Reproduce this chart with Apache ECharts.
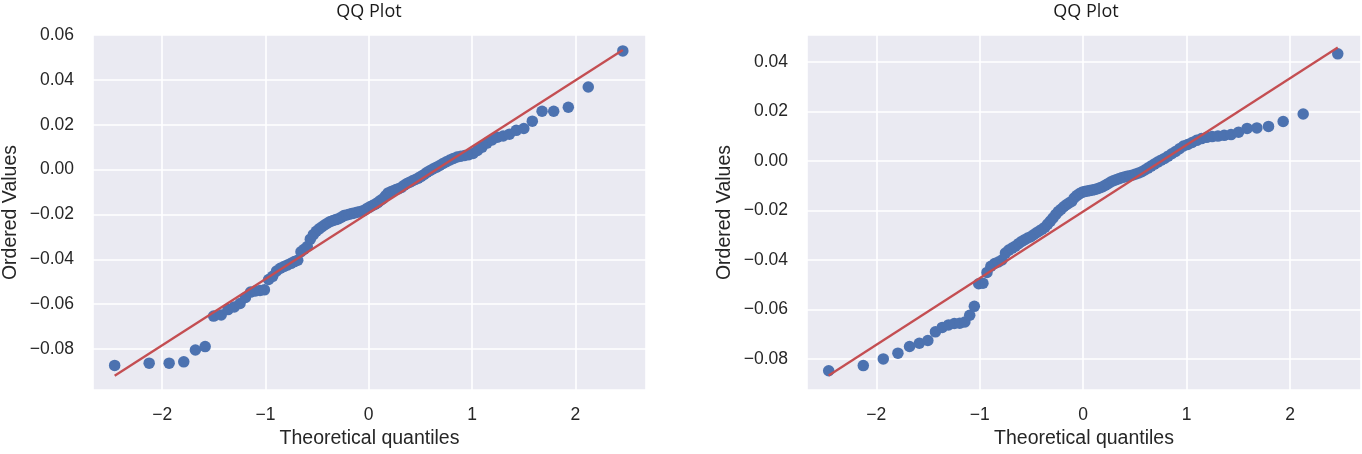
<!DOCTYPE html>
<html>
<head>
<meta charset="utf-8">
<title>QQ Plot</title>
<script src="https://cdn.jsdelivr.net/npm/echarts@6/dist/echarts.min.js"></script>
<style>
  html, body { margin: 0; padding: 0; background: #fff; }
  #chart { width: 1362px; height: 454px; }
</style>
</head>
<body>
<div id="chart"></div>
<script>
// theoretical quantiles (n = 100, same for both plots)
var quantiles = [
  -2.4604, -2.1260, -1.9326, -1.7911, -1.6786, -1.5841, -1.5019, -1.4288, -1.3627, -1.3020,
  -1.2460, -1.1934, -1.1439, -1.0971, -1.0526, -1.0101, -0.9693, -0.9301, -0.8923, -0.8557,
  -0.8202, -0.7857, -0.7521, -0.7194, -0.6874, -0.6560, -0.6253, -0.5952, -0.5656, -0.5365,
  -0.5079, -0.4797, -0.4519, -0.4244, -0.3972, -0.3703, -0.3437, -0.3173, -0.2912, -0.2652,
  -0.2395, -0.2139, -0.1884, -0.1631, -0.1378, -0.1126, -0.0875, -0.0625, -0.0375, -0.0125,
  0.0125, 0.0375, 0.0625, 0.0875, 0.1126, 0.1378, 0.1631, 0.1884, 0.2139, 0.2395,
  0.2652, 0.2912, 0.3173, 0.3437, 0.3703, 0.3972, 0.4244, 0.4519, 0.4797, 0.5079,
  0.5365, 0.5656, 0.5952, 0.6253, 0.6560, 0.6874, 0.7194, 0.7521, 0.7857, 0.8202,
  0.8557, 0.8923, 0.9301, 0.9693, 1.0101, 1.0526, 1.0971, 1.1439, 1.1934, 1.2460,
  1.3020, 1.3627, 1.4288, 1.5019, 1.5841, 1.6786, 1.7911, 1.9326, 2.1260, 2.4604
];

// ordered values, left plot
var leftValues = [
  -0.0873, -0.0863, -0.0863, -0.0857, -0.0804, -0.0789, -0.0653, -0.0648, -0.0624, -0.0612,
  -0.0597, -0.0570, -0.0546, -0.0541, -0.0539, -0.0536, -0.0490, -0.0476, -0.0452, -0.0440,
  -0.0432, -0.0425, -0.0418, -0.0410, -0.0404, -0.0366, -0.0355, -0.0343, -0.0310, -0.0290,
  -0.0275, -0.0264, -0.0255, -0.0246, -0.0238, -0.0231, -0.0227, -0.0223, -0.0219, -0.0212,
  -0.0205, -0.0202, -0.0199, -0.0196, -0.0193, -0.0190, -0.0188, -0.0185, -0.0180, -0.0172,
  -0.0166, -0.0160, -0.0154, -0.0147, -0.0138, -0.0130, -0.0117, -0.0104, -0.0099, -0.0094,
  -0.0089, -0.0085, -0.0079, -0.0070, -0.0062, -0.0056, -0.0050, -0.0044, -0.0038, -0.0030,
  -0.0022, -0.0012, -0.0004, 0.0004, 0.0011, 0.0018, 0.0027, 0.0035, 0.0043, 0.0050,
  0.0056, 0.0060, 0.0063, 0.0066, 0.0072, 0.0085, 0.0100, 0.0118, 0.0132, 0.0144,
  0.0150, 0.0158, 0.0175, 0.0183, 0.0216, 0.0260, 0.0260, 0.0278, 0.0368, 0.0529
];

// ordered values, right plot
var rightValues = [
  -0.0847, -0.0826, -0.0799, -0.0776, -0.0749, -0.0736, -0.0725, -0.0690, -0.0672, -0.0662,
  -0.0656, -0.0655, -0.0650, -0.0623, -0.0587, -0.0496, -0.0494, -0.0450, -0.0425, -0.0414,
  -0.0408, -0.0400, -0.0372, -0.0360, -0.0352, -0.0344, -0.0334, -0.0325, -0.0318, -0.0311,
  -0.0306, -0.0298, -0.0290, -0.0283, -0.0276, -0.0268, -0.0255, -0.0243, -0.0230, -0.0216,
  -0.0204, -0.0195, -0.0185, -0.0177, -0.0170, -0.0164, -0.0150, -0.0140, -0.0133, -0.0127,
  -0.0124, -0.0122, -0.0120, -0.0118, -0.0115, -0.0112, -0.0108, -0.0104, -0.0098, -0.0092,
  -0.0085, -0.0080, -0.0076, -0.0072, -0.0068, -0.0065, -0.0062, -0.0060, -0.0057, -0.0053,
  -0.0049, -0.0044, -0.0037, -0.0029, -0.0021, -0.0013, -0.0005, 0.0003, 0.0010, 0.0019,
  0.0029, 0.0038, 0.0049, 0.0060, 0.0066, 0.0074, 0.0083, 0.0090, 0.0095, 0.0098,
  0.0100, 0.0103, 0.0106, 0.0116, 0.0131, 0.0133, 0.0139, 0.0159, 0.0189, 0.0432
];

// least squares fit [slope, intercept]
var leftFit = [0.0295, -0.0193];
var rightFit = [0.0269, -0.0204];

var titles = ['QQ Plot', 'QQ Plot'];
var xName = 'Theoretical quantiles';
var yName = 'Ordered Values';


var chart = echarts.init(document.getElementById('chart'), null, { renderer: 'canvas' });

var tickColor = '#262626';
var tickFont = 'Liberation Sans, Arial, sans-serif';

function minusFmt(digits) {
  return function (v) {
    var s = Math.abs(v).toFixed(digits);
    if (v < -1e-9) s = '\u2212' + s;
    return s;
  };
}

function pairs(xs, ys) {
  var out = [];
  for (var i = 0; i < xs.length; i++) out.push([xs[i], ys[i]]);
  return out;
}

function fitLine(fit) {
  var x0 = quantiles[0], x1 = quantiles[quantiles.length - 1];
  return [[x0, fit[1] + fit[0] * x0], [x1, fit[1] + fit[0] * x1]];
}

function xAxisFor(idx) {
  return {
    type: 'value', gridIndex: idx,
    min: -2.67, max: 2.685, splitNumber: 5,
    name: xName, nameLocation: 'middle', nameGap: 37,
    nameTextStyle: { color: tickColor, fontSize: 19.5, fontFamily: tickFont },
    axisLine: { show: false }, axisTick: { show: false },
    axisLabel: {
      color: tickColor, fontSize: 17.5, fontFamily: tickFont, margin: 16,
      showMinLabel: false, showMaxLabel: false, formatter: minusFmt(0)
    },
    splitLine: { show: true, lineStyle: { color: '#ffffff', width: 1.6 } }
  };
}

function yAxisFor(idx, min, max, showMax) {
  return {
    type: 'value', gridIndex: idx,
    min: min, max: max, splitNumber: 7,
    name: yName, nameLocation: 'middle', nameGap: 72,
    nameTextStyle: { color: tickColor, fontSize: 19.5, fontFamily: tickFont },
    axisLine: { show: false }, axisTick: { show: false },
    axisLabel: {
      color: tickColor, fontSize: 17.5, fontFamily: tickFont, margin: 19,
      showMinLabel: false, showMaxLabel: showMax, formatter: minusFmt(2)
    },
    splitLine: { show: true, lineStyle: { color: '#ffffff', width: 1.6 } }
  };
}

var option = {
  animation: false,
  backgroundColor: '#ffffff',
  title: [{
    text: titles[0], left: 364, top: -2, textAlign: 'center',
    textStyle: { fontFamily: 'Open Sans', fontSize: 18, fontWeight: 'normal', color: '#1a1a1a' }
  }, {
    text: titles[1], left: 1081, top: -2, textAlign: 'center',
    textStyle: { fontFamily: 'Open Sans', fontSize: 18, fontWeight: 'normal', color: '#1a1a1a' }
  }],
  grid: [
    { left: 92, top: 35, width: 554, height: 359, show: true, backgroundColor: '#EAEAF2', borderWidth: 0 },
    { left: 807, top: 35, width: 554, height: 359, show: true, backgroundColor: '#EAEAF2', borderWidth: 0 }
  ],
  xAxis: [xAxisFor(0), xAxisFor(1)],
  yAxis: [
    yAxisFor(0, -0.0983, 0.06, true),
    yAxisFor(1, -0.0925, 0.0508, false)
  ],
  series: [{
    type: 'scatter', xAxisIndex: 0, yAxisIndex: 0,
    data: pairs(quantiles, leftValues),
    symbolSize: 11.5,
    itemStyle: { color: '#4C72B0', opacity: 1 },
    z: 2
  }, {
    type: 'line', xAxisIndex: 0, yAxisIndex: 0,
    data: fitLine(leftFit),
    showSymbol: false,
    lineStyle: { color: '#C44E52', width: 2.3 },
    z: 3
  }, {
    type: 'scatter', xAxisIndex: 1, yAxisIndex: 1,
    data: pairs(quantiles, rightValues),
    symbolSize: 11.5,
    itemStyle: { color: '#4C72B0', opacity: 1 },
    z: 2
  }, {
    type: 'line', xAxisIndex: 1, yAxisIndex: 1,
    data: fitLine(rightFit),
    showSymbol: false,
    lineStyle: { color: '#C44E52', width: 2.3 },
    z: 3
  }]
};

chart.setOption(option);
</script>
</body>
</html>
